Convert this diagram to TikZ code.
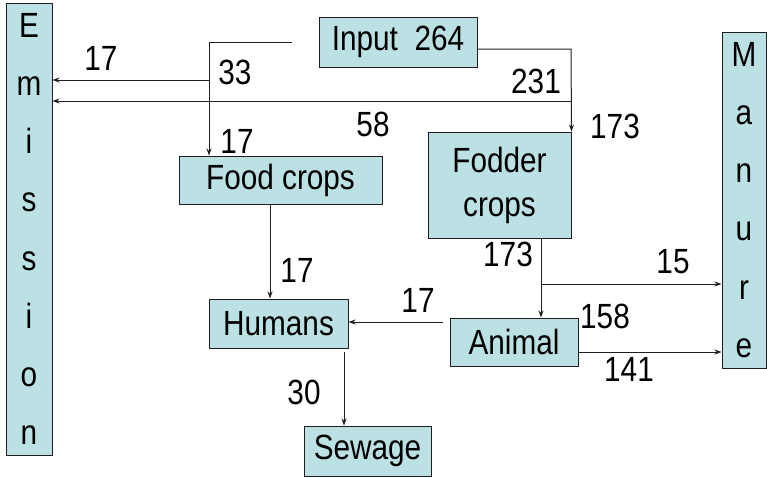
\documentclass[tikz,border=0pt]{standalone}
\usepackage{fontspec}
\setmainfont{Liberation Sans}[FakeStretch=0.85]
\usetikzlibrary{arrows.meta}
\definecolor{boxfill}{RGB}{188,225,228}
\definecolor{edge}{RGB}{30,30,30}
\begin{document}
\begin{tikzpicture}[x=1pt,y=-1pt,
  box/.style={draw=edge,line width=1pt,fill=boxfill,inner sep=0pt,align=center,font=\fontsize{35}{44}\selectfont},
  vbox/.style={box,font=\fontsize{35}{58.2}\selectfont},
  lbl/.style={inner sep=0pt,font=\fontsize{35}{40}\selectfont},
  ln/.style={draw=edge,line width=1pt},
  arr/.style={ln,-{Stealth[length=7pt,width=5pt]}}]
\useasboundingbox (0,0) rectangle (767,477);

% boxes
\node[vbox,minimum width=46pt,minimum height=452pt] (emis) at (29,229) {E\\m\\i\\s\\s\\i\\o\\n};
\node[vbox,minimum width=44pt,minimum height=336pt] (man) at (744,200) {M\\a\\n\\u\\r\\e};
\node[box,minimum width=158pt,minimum height=50pt] (input) at (398,42) {Input\ \ 264};
\node[box,minimum width=203pt,minimum height=48pt] (food) at (280.5,180) {Food crops};
\node[box,minimum width=143pt,minimum height=106pt] (fodder) at (499.5,185) {Fodder\\crops};
\node[box,minimum width=139pt,minimum height=49pt] (humans) at (278.5,323.5) {Humans};
\node[box,minimum width=128pt,minimum height=48pt] (animal) at (514,342) {Animal};
\node[box,minimum width=127pt,minimum height=50pt] (sewage) at (367.5,451) {Sewage};

% helper coordinates
\coordinate (inL) at (292,42);
\coordinate (j1) at (209,42);
\coordinate (j2) at (209,80);
\coordinate (j3) at (571,49);
\coordinate (j4) at (571,101);
\coordinate (xf) at (270,0);
\coordinate (hs) at (344,352);
\coordinate (ah) at (443,322);
\coordinate (xa) at (541,0);
\coordinate (j6) at (541,284);
\coordinate (am) at (0,352);

% connectors
\draw[arr] (inL) -- (j1) -- (j1 |- food.north);
\draw[arr] (j2) -- (j2 -| emis.east);
\draw[arr] (input.east |- j3) -- (j3) -- (fodder.north east);
\draw[arr] (j4) -- (j4 -| emis.east);
\draw[arr] (xf |- food.south) -- (xf |- humans.north);
\draw[arr] (hs) -- (hs |- sewage.north);
\draw[arr] (ah) -- (ah -| humans.east);
\draw[arr] (xa |- fodder.south) -- (xa |- animal.north);
\draw[arr] (j6) -- (j6 -| man.west);
\draw[arr] (animal.east |- am) -- (man.west |- am);

% labels
\node[lbl] (l1) at (101,58) {17};
\node[lbl] (l2) at (235,72) {33};
\node[lbl] (l3) at (237,141) {17};
\node[lbl] (l4) at (536,81) {231};
\node[lbl] (l5) at (373,124) {58};
\node[lbl] (l6) at (615,126) {173};
\node[lbl] (l7) at (508,254) {173};
\node[lbl] (l8) at (673,262) {15};
\node[lbl] (l9) at (605,316) {158};
\node[lbl] (l10) at (629,369) {141};
\node[lbl] (l11) at (297,270) {17};
\node[lbl] (l12) at (418,300) {17};
\node[lbl] (l13) at (304,392) {30};
\end{tikzpicture}
\end{document}
